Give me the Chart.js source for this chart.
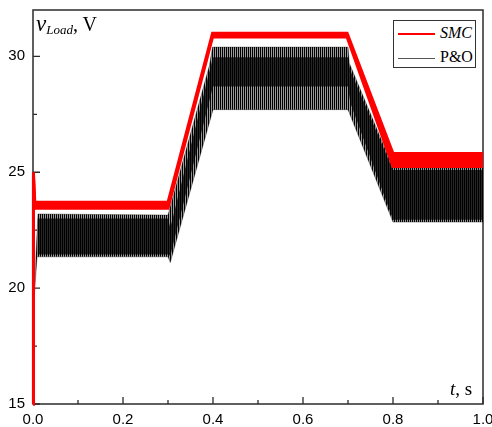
<!DOCTYPE html>
<html>
<head>
<meta charset="utf-8">
<script src="https://cdn.jsdelivr.net/npm/chart.js@4.4.0/dist/chart.umd.min.js"></script>
<style>
  html, body { margin: 0; padding: 0; background: #fff; }
  #wrap { position: relative; width: 492px; height: 427px; }
  .serif { position: absolute; font-family: "Liberation Serif", "Times New Roman", serif; color: #000; white-space: nowrap; }
  #ytitle { left: 36px; top: 11px; font-size: 20px; }
  #ytitle .v { font-size: 23px; font-style: italic; }
  #ytitle sub { font-size: 13px; font-style: italic; vertical-align: -3px; }
  #xtitle { left: 450px; top: 378px; font-size: 19px; }
  #legend { left: 393px; top: 20px; width: 83px; height: 48px; border: 1px solid #333; background: #fff; box-sizing: border-box; font-size: 16px; }
  #legend .row { height: 24px; line-height: 24px; }
  #legend .sw { display: inline-block; width: 37px; margin: 0 5px 0 4px; vertical-align: middle; }
  #legend .red { height: 2px; background: #ff0000; }
  #legend .blk { height: 1px; background: #555; }
</style>
</head>
<body>
<div id="wrap">
  <canvas id="chart" width="492" height="427"></canvas>
  <div class="serif" id="ytitle"><span class="v">v</span><sub>Load</sub>, V</div>
  <div class="serif" id="xtitle"><i>t</i>, s</div>
  <div class="serif" id="legend">
    <div class="row"><span class="sw red"></span><i>SMC</i></div>
    <div class="row"><span class="sw blk"></span>P&amp;O</div>
  </div>
</div>
<script>
(function() {
    'use strict';

    // axis ticks
    const xMajor = [0, 0.2, 0.4, 0.6, 0.8, 1.0];
    const xMinor = [0.1, 0.3, 0.5, 0.7, 0.9];
    const yMajor = [15, 20, 25, 30];
    const yMinor = [17.5, 22.5, 27.5];

    // SMC: thick red trace, upper and lower edge
    const tSmc  = [0, 0.001, 0.004, 0.300, 0.399, 0.698, 0.800, 1.000];
    const smcHi = [15, 25.0, 23.70, 23.70, 31.00, 31.00, 25.81, 25.81];
    const smcLo = [15, 24.8, 23.45, 23.45, 30.84, 30.84, 25.25, 25.25];

    // P&O: oscillation envelope
    const tPoHi = [0, 0.002, 0.011, 0.300, 0.392, 0.399, 0.700, 0.703, 0.800, 1.000];
    const poHi  = [15, 19.6, 23.2, 23.15, 29.6, 30.4, 30.4, 29.7, 25.2, 25.2];
    const tPoLo = [0, 0.002, 0.009, 0.300, 0.305, 0.400, 0.700, 0.800, 1.000];
    const poLo  = [15, 19.4, 21.35, 21.35, 21.1, 27.7, 27.7, 22.85, 22.85];

    // P&O: dense core of the oscillation
    const tCore  = [0.010, 0.300, 0.305, 0.400, 0.700, 0.705, 0.800, 1.000];
    const coreHi = [23.0, 23.0, 22.6, 29.96, 29.96, 29.4, 25.1, 25.1];
    const coreLo = [21.45, 21.45, 21.4, 28.7, 28.7, 28.0, 22.95, 22.95];

    const pts = (t, v) => t.map((x, i) => ({ x, y: v[i] }));

    // vertical streaks, like the dense switching ripple
    const stripes = (dark, light) => {
        const c = document.createElement('canvas');
        c.width = 2;
        c.height = 1;
        const g = c.getContext('2d');
        g.fillStyle = dark;
        g.fillRect(0, 0, 1, 1);
        g.fillStyle = light;
        g.fillRect(1, 0, 1, 1);
        return g.createPattern(c, 'repeat');
    };

    const line = (data, color, width, fill, bg) => ({
        data,
        borderColor: color,
        borderWidth: width,
        backgroundColor: bg || 'transparent',
        fill: fill,
        pointRadius: 0,
        tension: 0,
        clip: 3
    });

    const frame = {
        id: 'frame',
        beforeDatasetsDraw(chart) {
            const { ctx, chartArea: a, scales: { x, y } } = chart;
            ctx.save();
            ctx.strokeStyle = '#2b2b2b';
            ctx.lineWidth = 1.5;
            ctx.strokeRect(a.left, a.top, a.right - a.left, a.bottom - a.top);
            ctx.lineWidth = 1.3;
            ctx.beginPath();
            xMajor.concat(xMinor).forEach(v => {
                const px = x.getPixelForValue(v);
                const len = xMajor.includes(v) ? 7 : 4;
                ctx.moveTo(px, a.bottom);
                ctx.lineTo(px, a.bottom - len);
            });
            yMajor.concat(yMinor).forEach(v => {
                const py = y.getPixelForValue(v);
                const len = yMajor.includes(v) ? 7 : 4;
                ctx.moveTo(a.left, py);
                ctx.lineTo(a.left + len, py);
            });
            ctx.stroke();
            ctx.restore();
        }
    };

    // earlier datasets are painted last, so SMC sits on top
    new Chart(document.getElementById('chart'), {
        type: 'line',
        data: {
            datasets: [
                line(pts(tSmc, smcHi), '#ff0000', 3, false),
                line(pts(tSmc, smcLo), '#ff0000', 3, '-1', '#ff0000'),
                line(pts(tCore, coreHi), 'rgba(0,0,0,0)', 0, false),
                line(pts(tCore, coreLo), 'rgba(0,0,0,0)', 0, '-1', stripes('#000', '#262626')),
                line(pts(tPoHi, poHi), 'rgba(0,0,0,0.55)', 0.6, false),
                line(pts(tPoLo, poLo), 'rgba(0,0,0,0.55)', 0.6, '-1', stripes('#000', '#9a9a9a'))
            ]
        },
        options: {
            responsive: false,
            animation: false,
            layout: { padding: { top: 10, right: 9, left: 0, bottom: 0 } },
            plugins: { legend: { display: false }, tooltip: { enabled: false } },
            scales: {
                x: {
                    type: 'linear',
                    min: 0,
                    max: 1,
                    grid: { display: false, drawTicks: false },
                    border: { display: false },
                    afterBuildTicks: s => { s.ticks = xMajor.map(v => ({ value: v })); },
                    afterFit: s => { s.height = 23; s.paddingLeft = 0; s.paddingRight = 0; },
                    ticks: {
                        padding: 7,
                        color: '#000',
                        font: { family: '"Liberation Sans", Arial, sans-serif', size: 15 },
                        callback: v => v.toFixed(1),
                        maxRotation: 0
                    }
                },
                y: {
                    min: 15,
                    max: 32,
                    grid: { display: false, drawTicks: false },
                    border: { display: false },
                    afterBuildTicks: s => { s.ticks = yMajor.map(v => ({ value: v })); },
                    afterFit: s => { s.width = 33; s.paddingTop = 0; s.paddingBottom = 0; },
                    ticks: {
                        padding: 8,
                        color: '#000',
                        font: { family: '"Liberation Sans", Arial, sans-serif', size: 15 }
                    }
                }
            }
        },
        plugins: [frame]
    });
})();
</script>
</body>
</html>
